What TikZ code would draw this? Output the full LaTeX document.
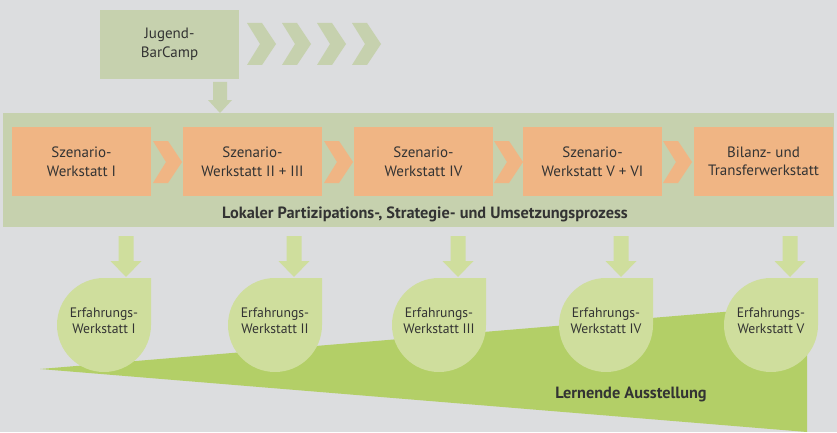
\documentclass[tikz,border=0pt]{standalone}
\usepackage{fontspec}
\setmainfont{PT Sans}
\definecolor{bg}{HTML}{DCDDDF}
\definecolor{sage}{HTML}{C6D1AE}
\definecolor{orng}{HTML}{F0B584}
\definecolor{lgreen}{HTML}{CFDE9D}
\definecolor{mgreen}{HTML}{B3CF67}
\definecolor{txt}{HTML}{333333}
\tikzset{
  box/.style={fill=orng, minimum width=139pt, minimum height=69pt, inner sep=0pt, align=center, text=txt, font=\fontsize{15}{18.5}\selectfont},
  lbl/.style={text=txt, align=center, font=\fontsize{16.3}{19}\selectfont\bfseries},
  droplbl/.style={text=txt, align=center, font=\fontsize{13.7}{16}\selectfont},
}
\newcommand{\chev}[4]{% x, ymid, color, height
  \fill[#3] (#1,#2+#4/2) -- ++(15,0) -- ++(14,-#4/2) -- ++(-14,-#4/2) -- ++(-15,0) -- ++(13,#4/2) -- cycle;}
\newcommand{\drop}[2]{% cx, name
  \fill[lgreen] (#1,154) -- (#1+47,154) -- (#1+47,107) arc[start angle=0, end angle=-270, radius=47pt] -- cycle;
  \coordinate (#2) at (#1,154);}
\newcommand{\darrow}[3]{% cx, top y, tip y
  \fill[lgreen] (#1-7.5,#2) -- (#1+7.5,#2) -- (#1+7.5,#3+16) -- (#1+15.5,#3+16) -- (#1,#3) -- (#1-15.5,#3+16) -- (#1-7.5,#3+16) -- cycle;}
\begin{document}
\begin{tikzpicture}[x=1pt,y=1pt]
\useasboundingbox (0,0) rectangle (837,432);
\fill[bg] (0,0) rectangle (837,432);
% top
\node[box, fill=sage] (jbc) at (169.5,387.5) {Jugend-\\BarCamp};
\foreach \x in {247,282,317,352} {\chev{\x}{388}{sage}{42}}
\fill[sage] (213,350) -- (227,350) -- (227,332) -- (232,332) -- (220,319) -- (208,332) -- (213,332) -- cycle;
% band
\fill[sage] (3,205) rectangle (834,319);
\node[box] (s1) at (81.5,270.5) {Szenario-\\Werkstatt I};
\node[box] (s2) at (252.5,270.5) {Szenario-\\Werkstatt II + III};
\node[box] (s3) at (423.5,270.5) {Szenario-\\Werkstatt IV};
\node[box] (s4) at (592.5,270.5) {Szenario-\\Werkstatt V + VI};
\node[box] (s5) at (763.5,270.5) {Bilanz- und\\Transferwerkstatt};
\foreach \x in {153,324,494,663} {\chev{\x}{270}{orng}{42}}
\node[lbl] (band) at (425,218) {Lokaler Partizipations-, Strategie- und Umsetzungsprozess};
% triangle
\fill[mgreen] (40,63) -- (807,127) -- (807,0) -- cycle;
\node[lbl] (la) at (631,38) {Lernende Ausstellung};
% drops
\foreach \c/\n in {104/d1,275/d2,439/d3,606/d4,771/d5} {\drop{\c}{\n}}
\foreach \x in {126,294,458,621,790} {\darrow{\x}{196}{155}}
\node[droplbl] (e1) at (104,111) {Erfahrungs-\\Werkstatt I};
\node[droplbl] (e2) at (275,111) {Erfahrungs-\\Werkstatt II};
\node[droplbl] (e3) at (439,111) {Erfahrungs-\\Werkstatt III};
\node[droplbl] (e4) at (606,111) {Erfahrungs-\\Werkstatt IV};
\node[droplbl] (e5) at (771,111) {Erfahrungs-\\Werkstatt V};
\end{tikzpicture}
\end{document}
